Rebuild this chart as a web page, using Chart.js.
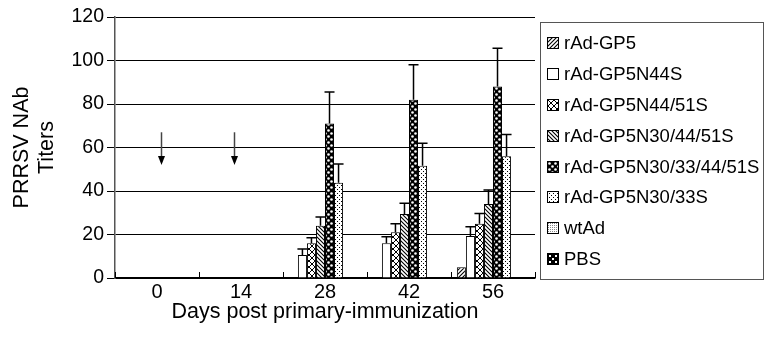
<!DOCTYPE html>
<html lang="en">
<head>
<meta charset="UTF-8">
<title>PRRSV NAb Titers</title>
<script src="https://cdn.jsdelivr.net/npm/chart.js"></script>
<style>
    body { margin: 0; background: #fff; font-family: "Liberation Sans", Arial, sans-serif; }
    #wrap { position: relative; width: 766px; height: 338px; }
    #legend { position: absolute; left: 540px; top: 22px; width: 224px; height: 258px;
              border: 1.5px solid #555; padding-top: 5px; box-sizing: border-box; }
    .item { height: 30.8px; display: flex; align-items: center; font-size: 18.5px; color: #000; }
    .item canvas { width: 10px; height: 10px; border: 1px solid #000; margin: 0 5px 0 6px; }
</style>
</head>
<body>
<div id="wrap">
    <canvas id="chart"></canvas>
    <div id="legend"></div>
</div>
<script>
    const days = ["0", "14", "28", "42", "56"];
    const groups = ["rAd-GP5", "rAd-GP5N44S", "rAd-GP5N44/51S", "rAd-GP5N30/44/51S",
                    "rAd-GP5N30/33/44/51S", "rAd-GP5N30/33S", "wtAd", "PBS"];

    // mean titers per group
    const gp5        = [0, 0, 0, 0, 5];
    const n44        = [0, 0, 10.6, 16, 19.3];
    const n44_51     = [0, 0, 16, 21, 25];
    const n30_44_51  = [0, 0, 24, 29.4, 34];
    const n30_33_44_51 = [0, 0, 71, 82, 88];
    const n30_33     = [0, 0, 43.8, 51.6, 56];
    const wtAd       = [0, 0, 0, 0, 0];
    const pbs        = [0, 0, 0, 0, 0];

    // upper error (SD)
    const gp5Err        = [0, 0, 0, 0, 0];
    const n44Err        = [0, 0, 2.7, 3, 4.3];
    const n44_51Err     = [0, 0, 2.5, 4, 4.7];
    const n30_44_51Err  = [0, 0, 4, 5, 6.5];
    const n30_33_44_51Err = [0, 0, 14.5, 16, 17.6];
    const n30_33Err     = [0, 0, 8.6, 10.4, 10];
    const wtAdErr       = [0, 0, 0, 0, 0];
    const pbsErr        = [0, 0, 0, 0, 0];

    // immunization arrows (category position, from/to titer)
    const arrowAt = [0.05, 0.92];
    const arrowFrom = 67;
    const arrowTo = 52;

    const yTicks = [0, 20, 40, 60, 80, 100, 120];

    function makePattern(kind) {
        const c = document.createElement("canvas");
        const s = kind === "cross" ? 6 : (kind === "blackdot" || kind === "pbs") ? 6 : 4;
        c.width = s; c.height = s;
        const g = c.getContext("2d");
        g.fillStyle = "#fff";
        g.fillRect(0, 0, s, s);
        g.strokeStyle = "#000";
        g.fillStyle = "#000";
        g.lineWidth = 1.1;
        if (kind === "fwd") {
            g.beginPath();
            g.moveTo(0, s); g.lineTo(s, 0);
            g.moveTo(-1, 1); g.lineTo(1, -1);
            g.moveTo(s - 1, s + 1); g.lineTo(s + 1, s - 1);
            g.stroke();
        } else if (kind === "back") {
            g.beginPath();
            g.moveTo(0, 0); g.lineTo(s, s);
            g.moveTo(s - 1, -1); g.lineTo(s + 1, 1);
            g.moveTo(-1, s - 1); g.lineTo(1, s + 1);
            g.stroke();
        } else if (kind === "cross") {
            g.lineWidth = 1;
            g.beginPath();
            g.moveTo(0, 0); g.lineTo(s, s);
            g.moveTo(0, s); g.lineTo(s, 0);
            g.stroke();
        } else if (kind === "blackdot") {
            g.fillRect(0, 0, s, s);
            g.fillStyle = "#fff";
            g.beginPath(); g.arc(1.5, 1.5, 1.3, 0, Math.PI * 2); g.fill();
            g.beginPath(); g.arc(4.5, 4.5, 1.3, 0, Math.PI * 2); g.fill();
        } else if (kind === "dots") {
            g.fillRect(1, 1, 1, 1);
            g.fillRect(3, 3, 1, 1);
        } else if (kind === "fine") {
            g.fillStyle = "#888";
            g.fillRect(0, 0, 1, 1);
            g.fillRect(2, 2, 1, 1);
            g.fillRect(2, 0, 1, 1);
            g.fillRect(0, 2, 1, 1);
        } else if (kind === "pbs") {
            g.fillRect(0, 0, s, s);
            g.fillStyle = "#fff";
            g.fillRect(1, 1, 2, 2);
            g.fillRect(4, 4, 2, 2);
        }
        return { canvas: c, pattern: g.createPattern(c, "repeat") };
    }

    const kinds = ["fwd", "white", "cross", "back", "blackdot", "dots", "fine", "pbs"];
    const values = [gp5, n44, n44_51, n30_44_51, n30_33_44_51, n30_33, wtAd, pbs];
    const errors = [gp5Err, n44Err, n44_51Err, n30_44_51Err, n30_33_44_51Err, n30_33Err, wtAdErr, pbsErr];
    const fills = kinds.map(k => k === "white" ? null : makePattern(k));

    const datasets = groups.map((name, i) => ({
        label: name,
        data: values[i],
        err: errors[i],
        backgroundColor: fills[i] ? fills[i].pattern : "#fff",
        borderColor: "#000",
        borderWidth: 1,
        borderSkipped: "bottom"
    }));

    const extras = {
        id: "extras",
        afterDatasetsDraw(chart) {
            const ctx = chart.ctx;
            const x = chart.scales.x, y = chart.scales.y;
            ctx.save();
            ctx.strokeStyle = "#000";
            ctx.lineWidth = 1.5;
            // error bars
            chart.data.datasets.forEach((ds, di) => {
                const meta = chart.getDatasetMeta(di);
                meta.data.forEach((bar, i) => {
                    const e = ds.err[i];
                    if (!e) return;
                    const top = y.getPixelForValue(ds.data[i] + e);
                    ctx.beginPath();
                    ctx.moveTo(bar.x, bar.y);
                    ctx.lineTo(bar.x, top);
                    ctx.moveTo(bar.x - 5, top);
                    ctx.lineTo(bar.x + 5, top);
                    ctx.stroke();
                });
            });
            // inward ticks on x axis between categories
            ctx.lineWidth = 1;
            const n = days.length;
            for (let i = 0; i <= n; i++) {
                const px = Math.round(x.left + i * x.width / n) + 0.5;
                ctx.beginPath();
                ctx.moveTo(px, y.bottom);
                ctx.lineTo(px, y.bottom - 6);
                ctx.stroke();
            }
            // immunization arrows
            const step = x.getPixelForValue(1) - x.getPixelForValue(0);
            arrowAt.forEach(a => {
                const px = Math.round(x.getPixelForValue(0) + a * step) + 0.5;
                const y0 = y.getPixelForValue(arrowFrom);
                const y1 = y.getPixelForValue(arrowTo);
                ctx.strokeStyle = "#444";
                ctx.lineWidth = 1.5;
                ctx.beginPath();
                ctx.moveTo(px, y0);
                ctx.lineTo(px, y1 - 8);
                ctx.stroke();
                ctx.fillStyle = "#000";
                ctx.beginPath();
                ctx.moveTo(px - 3.5, y1 - 9);
                ctx.lineTo(px + 3.5, y1 - 9);
                ctx.lineTo(px, y1);
                ctx.closePath();
                ctx.fill();
            });
            ctx.restore();
        }
    };

    const chart = new Chart(document.getElementById("chart"), {
        type: "bar",
        data: { labels: days, datasets: datasets },
        options: {
            responsive: true,
            maintainAspectRatio: false,
            animation: false,
            layout: { padding: { top: 17, right: 231, left: 0, bottom: 0 } },
            plugins: { legend: { display: false }, tooltip: { enabled: false } },
            datasets: { bar: { categoryPercentage: 0.86, barPercentage: 1 } },
            scales: {
                x: {
                    grid: { display: false, drawTicks: false },
                    border: { display: true, color: "#000", width: 1.5 },
                    ticks: { color: "#000", padding: 2, font: { size: 20, family: "Liberation Sans" } },
                    title: {
                        display: true, text: "Days post primary-immunization", color: "#000",
                        font: { size: 21.5, family: "Liberation Sans" }, padding: { top: 0, bottom: 13 }
                    },
                    afterFit(s) { s.height = 60; }
                },
                y: {
                    min: 0, max: 120,
                    afterBuildTicks(s) { s.ticks = yTicks.map(v => ({ value: v })); },
                    grid: { color: "#000", lineWidth: 1, tickLength: 8, drawTicks: true },
                    border: { display: true, color: "#555", width: 1.5 },
                    ticks: { color: "#000", padding: 3, font: { size: 19.5, family: "Liberation Sans" } },
                    title: {
                        display: true, text: ["PRRSV NAb", "Titers"], color: "#000",
                        font: { size: 21.5, family: "Liberation Sans", lineHeight: 1.15 }, padding: { top: 10, bottom: 0 }
                    },
                    afterFit(s) { s.width = 115; }
                }
            }
        },
        plugins: [extras]
    });

    // legend built from the chart's datasets
    const legend = document.getElementById("legend");
    chart.data.datasets.forEach((ds, i) => {
        const row = document.createElement("div");
        row.className = "item";
        const sw = document.createElement("canvas");
        sw.width = 10; sw.height = 10;
        const sg = sw.getContext("2d");
        sg.fillStyle = ds.backgroundColor;
        sg.fillRect(0, 0, 10, 10);
        row.appendChild(sw);
        const t = document.createElement("span");
        t.textContent = ds.label;
        row.appendChild(t);
        legend.appendChild(row);
    });
</script>
</body>
</html>
